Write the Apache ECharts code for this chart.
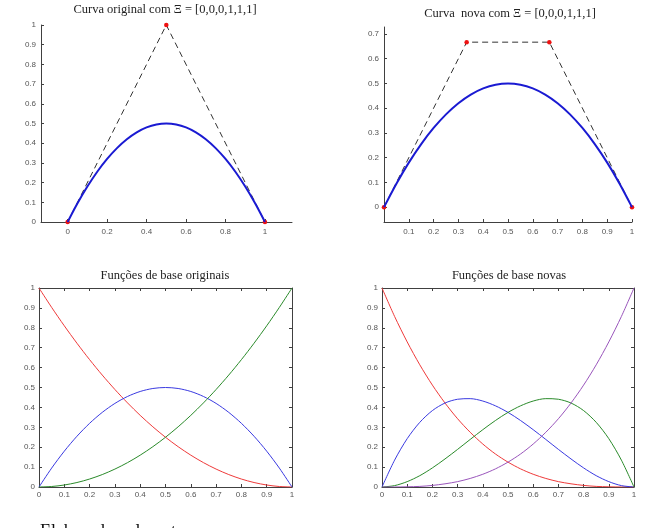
<!DOCTYPE html>
<html>
<head>
<meta charset="utf-8">
<script src="https://cdn.jsdelivr.net/npm/echarts@6/dist/echarts.min.js"></script>
<style>
html,body{margin:0;padding:0;background:#fff;}
#c{width:646px;height:528px;}
</style>
</head>
<body>
<div id="c"></div>
<script>
// ---- data ----
const titles = [
  'Curva original com \u039E = [0,0,0,1,1,1]',
  'Curva  nova com \u039E = [0,0,0,1,1,1]',
  'Fun\u00E7\u00F5es de base originais',
  'Fun\u00E7\u00F5es de base novas'
];
const caption = 'Elaborado pelo autor';

const xs = [0,0.05,0.1,0.15,0.2,0.25,0.3,0.35,0.4,0.45,0.5,0.55,0.6,0.65,0.7,0.75,0.8,0.85,0.9,0.95,1];

// curve (both top plots)
const curveY = [0,0.095,0.18,0.255,0.32,0.375,0.42,0.455,0.48,0.495,0.5,0.495,0.48,0.455,0.42,0.375,0.32,0.255,0.18,0.095,0];

// control polygons
const ctrlOrigX = [0,0.5,1];
const ctrlOrigY = [0,1,0];
const ctrlNewX = [0,0.3333,0.6667,1];
const ctrlNewY = [0,0.6667,0.6667,0];

// original basis functions (degree 2)
const b2Red   = [1,0.9025,0.81,0.7225,0.64,0.5625,0.49,0.4225,0.36,0.3025,0.25,0.2025,0.16,0.1225,0.09,0.0625,0.04,0.0225,0.01,0.0025,0];
const b2Blue  = [0,0.095,0.18,0.255,0.32,0.375,0.42,0.455,0.48,0.495,0.5,0.495,0.48,0.455,0.42,0.375,0.32,0.255,0.18,0.095,0];
const b2Green = [0,0.0025,0.01,0.0225,0.04,0.0625,0.09,0.1225,0.16,0.2025,0.25,0.3025,0.36,0.4225,0.49,0.5625,0.64,0.7225,0.81,0.9025,1];

// new basis functions (degree 3)
const b3Red    = [1,0.857,0.729,0.614,0.512,0.422,0.343,0.275,0.216,0.166,0.125,0.091,0.064,0.043,0.027,0.016,0.008,0.003,0.001,0.0001,0];
const b3Blue   = [0,0.135,0.243,0.325,0.384,0.422,0.441,0.444,0.432,0.408,0.375,0.334,0.288,0.239,0.189,0.141,0.096,0.057,0.027,0.007,0];
const b3Green  = [0,0.007,0.027,0.057,0.096,0.141,0.189,0.239,0.288,0.334,0.375,0.408,0.432,0.444,0.441,0.422,0.384,0.325,0.243,0.135,0];
const b3Purple = [0,0.0001,0.001,0.003,0.008,0.016,0.027,0.043,0.064,0.091,0.125,0.166,0.216,0.275,0.343,0.422,0.512,0.614,0.729,0.857,1];

// tick values
const ticksTLx = [0,0.2,0.4,0.6,0.8,1];
const ticksTLy = [0,0.1,0.2,0.3,0.4,0.5,0.6,0.7,0.8,0.9,1];
const ticksTRx = [0.1,0.2,0.3,0.4,0.5,0.6,0.7,0.8,0.9,1];
const ticksTRy = [0,0.1,0.2,0.3,0.4,0.5,0.6,0.7];
const ticksB   = [0,0.1,0.2,0.3,0.4,0.5,0.6,0.7,0.8,0.9,1];

// ---- helpers ----
const pair = (xa, ya) => xa.map((x, i) => [x, ya[i]]);
const AX = '#404040';
const LBL = {fontFamily:'Liberation Sans, Arial, sans-serif', fontSize:8, color:'#555'};

function axis(type, gi, pos, min, max, ticks, showLabels, margin){
  return {
    type:'value', gridIndex:gi, position:pos, min:min, max:max,
    axisLine:{show:true, onZero:false, lineStyle:{color:AX, width:1}},
    axisTick:{show:true, inside:true, length:3, customValues:ticks, lineStyle:{color:AX, width:1}},
    axisLabel:{show:showLabels, customValues:ticks, margin:margin, ...LBL,
      formatter:v => String(Math.round(v*10)/10)},
    splitLine:{show:false}
  };
}

const xAxis = [
  axis('x',0,'bottom',-0.135,1.137,ticksTLx,true,6),
  axis('x',1,'bottom',0,1,ticksTRx,true,6),
  axis('x',2,'bottom',0,1,ticksB,true,4),
  axis('x',2,'top',0,1,ticksB,false,4),
  axis('x',3,'bottom',0,1,ticksB,true,4),
  axis('x',3,'top',0,1,ticksB,false,4)
];
const yAxis = [
  axis('y',0,'left',0,1,ticksTLy,true,5),
  axis('y',1,'left',-0.06,0.728,ticksTRy,true,5),
  axis('y',2,'left',0,1,ticksB,true,4),
  axis('y',2,'right',0,1,ticksB,false,4),
  axis('y',3,'left',0,1,ticksB,true,4),
  axis('y',3,'right',0,1,ticksB,false,4)
];

function thin(name, xi, yi, ys, color){
  return {type:'line', name:name, xAxisIndex:xi, yAxisIndex:yi, data:pair(xs, ys),
    smooth:0.3, showSymbol:false, silent:true,
    lineStyle:{color:color, width:1}, z:3};
}
function ctrl(xi, yi, cx, cy){
  return {type:'line', xAxisIndex:xi, yAxisIndex:yi, data:pair(cx, cy),
    symbol:'circle', symbolSize:4.5, showSymbol:true, silent:true,
    itemStyle:{color:'#ee1111'},
    lineStyle:{color:'#333', width:1, type:[6,4]}, z:2};
}
function curve(xi, yi){
  return {type:'line', xAxisIndex:xi, yAxisIndex:yi, data:pair(xs, curveY),
    smooth:0.3, showSymbol:false, silent:true,
    lineStyle:{color:'#1a1ad2', width:2}, z:3};
}

const titleStyle = {fontFamily:'Liberation Serif, Times New Roman, serif', fontSize:12.5, fill:'#222'};
function ttl(text, x, y){
  return {type:'text', x:x, y:y, style:{text:text, ...titleStyle, align:'center', verticalAlign:'middle'}};
}

const option = {
  animation:false,
  backgroundColor:'#fff',
  grid:[
    {left:41, top:25, width:251, height:197},
    {left:384, top:27, width:248, height:195},
    {left:39, top:288, width:253, height:199},
    {left:382, top:288, width:252, height:199}
  ],
  xAxis:xAxis,
  yAxis:yAxis,
  series:[
    ctrl(0,0,ctrlOrigX,ctrlOrigY),
    curve(0,0),
    ctrl(1,1,ctrlNewX,ctrlNewY),
    curve(1,1),
    thin('N0',2,2,b2Red,'#ee3a3a'),
    thin('N1',2,2,b2Blue,'#3a3ae0'),
    thin('N2',2,2,b2Green,'#2a8a2a'),
    thin('M0',4,4,b3Red,'#ee3a3a'),
    thin('M1',4,4,b3Blue,'#3a3ae0'),
    thin('M2',4,4,b3Green,'#2a8a2a'),
    thin('M3',4,4,b3Purple,'#9955bb')
  ],
  graphic:[
    ttl(titles[0],165,10),
    ttl(titles[1],510,14),
    ttl(titles[2],165,276),
    ttl(titles[3],509,276),
    {type:'text', x:40, y:523, style:{text:caption, fontFamily:'Liberation Serif, Times New Roman, serif', fontSize:18, fill:'#111'}}
  ]
};

const chart = echarts.init(document.getElementById('c'), null, {renderer:'canvas'});
chart.setOption(option);
</script>
</body>
</html>
